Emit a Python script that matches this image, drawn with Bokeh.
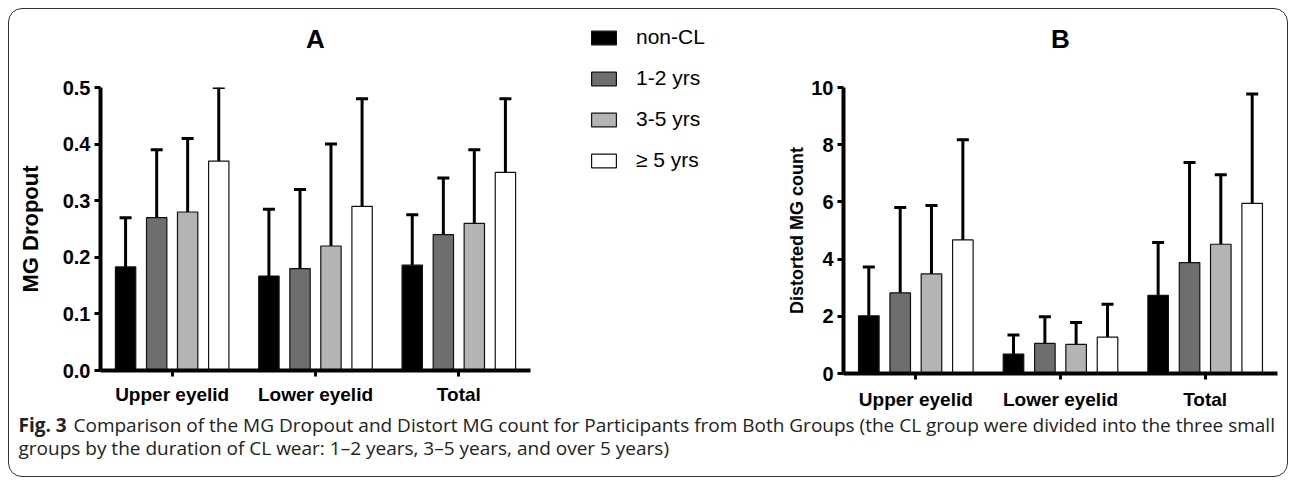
from bokeh.plotting import figure
from bokeh.models import (FactorRange, Range1d, ColumnDataSource, Whisker, TeeHead,
                          Legend, LegendItem, Label, FixedTicker, PrintfTickFormatter)
from bokeh.transform import dodge
from bokeh.layouts import row, column
from bokeh.embed import file_html
from bokeh.resources import INLINE

categories = ["Upper eyelid", "Lower eyelid", "Total"]
series = ["non-CL", "1-2 yrs", "3-5 yrs", "\u2265 5 yrs"]
colors = ["#000000", "#6e6e6e", "#b4b4b4", "#ffffff"]
offsets = [-0.325, -0.108, 0.108, 0.325]

# Panel A: MG Dropout (mean, mean + SD)
a_mean = {
    "non-CL": [0.183, 0.167, 0.186],
    "1-2 yrs": [0.270, 0.180, 0.240],
    "3-5 yrs": [0.280, 0.220, 0.260],
    "\u2265 5 yrs": [0.370, 0.290, 0.350],
}
a_top = {
    "non-CL": [0.270, 0.285, 0.275],
    "1-2 yrs": [0.390, 0.320, 0.340],
    "3-5 yrs": [0.410, 0.400, 0.390],
    "\u2265 5 yrs": [0.500, 0.480, 0.480],
}
a_ticks = [0.0, 0.1, 0.2, 0.3, 0.4, 0.5]

# Panel B: Distorted MG count (mean, mean + SD)
b_mean = {
    "non-CL": [2.02, 0.68, 2.73],
    "1-2 yrs": [2.82, 1.05, 3.88],
    "3-5 yrs": [3.48, 1.02, 4.52],
    "\u2265 5 yrs": [4.67, 1.27, 5.95],
}
b_top = {
    "non-CL": [3.72, 1.35, 4.58],
    "1-2 yrs": [5.80, 1.98, 7.38],
    "3-5 yrs": [5.87, 1.78, 6.95],
    "\u2265 5 yrs": [8.17, 2.42, 9.77],
}
b_ticks = [0, 2, 4, 6, 8, 10]

FONT = "Liberation Sans"
HEAD_H = 60
CHART_H = 344


def blank(width, height, x_end, y_end, **kw):
    p = figure(width=width, height=height, x_range=Range1d(0, x_end),
               y_range=Range1d(0, y_end), toolbar_location=None, output_backend="svg",
               x_axis_location=None, y_axis_location=None, **kw)
    p.border_fill_color = None
    p.background_fill_color = None
    p.outline_line_color = None
    p.grid.visible = False
    return p


def header(text, width):
    # the header's frame is aligned with the chart frame below it
    h = blank(width, HEAD_H, 1, HEAD_H, min_border=0)
    h.add_layout(Label(x=0.5, y=31, text=text, text_font=FONT, text_font_style="bold",
                       text_font_size="26px", text_align="center", text_baseline="middle",
                       text_color="black"))
    return h


def add_bars(p, means, tops, visible=True):
    rs = []
    for s, c, off in zip(series, colors, offsets):
        src = ColumnDataSource(dict(cat=categories, mean=means[s], top=tops[s]))
        if visible:
            p.add_layout(Whisker(source=src, base=dodge("cat", off, range=p.x_range),
                                 lower="mean", upper="top", line_color="black", line_width=3,
                                 upper_head=TeeHead(size=12, line_width=3, line_color="black"),
                                 lower_head=None, level="underlay"))
        r = p.vbar(x=dodge("cat", off, range=p.x_range), top="mean", width=0.142,
                   source=src, fill_color=c, line_color="#111111", line_width=1.2,
                   visible=visible)
        rs.append(r)
    return rs


def panel(ylabel, means, tops, ticks, fmt, ymax, width, mbl, mbr, mbt, mbb,
          label_standoff, label_size, x_standoff):
    p = figure(width=width, height=CHART_H, x_range=FactorRange(*categories),
               y_range=Range1d(0, ymax), toolbar_location=None, output_backend="svg",
               min_border_left=mbl, min_border_right=mbr, min_border_top=mbt,
               min_border_bottom=mbb)
    p.border_fill_color = None
    p.background_fill_color = None
    p.outline_line_color = None
    p.grid.visible = False
    p.x_range.range_padding = 0
    add_bars(p, means, tops)
    for ax in (p.xaxis, p.yaxis):
        ax.axis_line_width = 4
        ax.axis_line_color = "black"
        ax.major_tick_line_width = 3
        ax.major_tick_out = 6
        ax.major_tick_in = 0
        ax.minor_tick_line_color = None
        ax.major_label_text_font = FONT
        ax.major_label_text_font_style = "bold"
        ax.major_label_text_color = "black"
    p.xaxis.major_label_text_font_size = "19px"
    p.yaxis.major_label_text_font_size = "20px"
    p.xaxis.major_label_standoff = x_standoff
    p.yaxis.major_label_standoff = 4
    p.yaxis.ticker = FixedTicker(ticks=ticks)
    p.yaxis.formatter = PrintfTickFormatter(format=fmt)
    p.yaxis.axis_label = ylabel
    p.yaxis.axis_label_text_font = FONT
    p.yaxis.axis_label_text_font_style = "bold"
    p.yaxis.axis_label_text_font_size = label_size
    p.yaxis.axis_label_text_color = "black"
    p.yaxis.axis_label_standoff = label_standoff
    return p


# Panel A: frame 100..530 (page px), Panel B: frame 843..1277
WA, WL, WB = 531, 230, 517
pA = panel("MG Dropout", a_mean, a_top, a_ticks, "%.1f", 0.5,
           WA, 91, 10, 18, 43, 17, "22px", 7)
pB = panel("Distorted MG count", b_mean, b_top, b_ticks, "%d", 10,
           WB, 73, 10, 18, 40, 1, "18px", 9)
hA = header("A", WA)
hB = header("B", WB)

# Legend column between the two charts
pL = figure(width=WL, height=HEAD_H + CHART_H, x_range=FactorRange(*categories),
            y_range=Range1d(0, 1), toolbar_location=None, output_backend="svg",
            x_axis_location=None, y_axis_location=None,
            min_border_left=48, min_border_top=16, min_border_right=0, min_border_bottom=0)
pL.border_fill_color = None
pL.background_fill_color = None
pL.outline_line_color = None
pL.grid.visible = False
rendL = add_bars(pL, a_mean, a_top, visible=False)
items = [LegendItem(label=s, renderers=[r]) for s, r in zip(series, rendL)]
leg = Legend(items=items, location="top_left", glyph_width=31, glyph_height=17,
             label_standoff=17, spacing=17, padding=0, margin=0,
             border_line_color=None, background_fill_alpha=0,
             inactive_fill_alpha=0,
             label_text_font=FONT, label_text_font_size="21px",
             label_text_color="black", label_height=17)
pL.add_layout(leg)

# Caption
CW, CH = WA + WL + WB, 63
pC = blank(CW, CH, CW, CH, min_border=0)
CAP_FONT = "Open Sans"
CAP_SIZE = "19px"
cap_bold = "Fig. 3"
cap_line1 = ("Comparison of the MG Dropout and Distort MG count for Participants from Both "
             "Groups (the CL group were divided into the three small")
cap_line2 = "groups by the duration of CL wear: 1\u20132 years, 3\u20135 years, and over 5 years)"
pC.add_layout(Label(x=9, y=52, text=cap_bold, text_font=CAP_FONT, text_font_style="bold",
                    text_font_size=CAP_SIZE, text_baseline="middle", text_color="#222222"))
pC.add_layout(Label(x=64, y=52, text=cap_line1, text_font=CAP_FONT,
                    text_font_size=CAP_SIZE, text_baseline="middle", text_color="#222222"))
pC.add_layout(Label(x=9, y=29, text=cap_line2, text_font=CAP_FONT,
                    text_font_size=CAP_SIZE, text_baseline="middle", text_color="#222222"))

layout = column(row(column(hA, pA), pL, column(hB, pB)), pC,
                styles={"border": "1px solid #333333", "border-radius": "14px",
                        "margin-left": "8px", "margin-top": "8px"})

open("out.html", "w").write(file_html(layout, INLINE))
